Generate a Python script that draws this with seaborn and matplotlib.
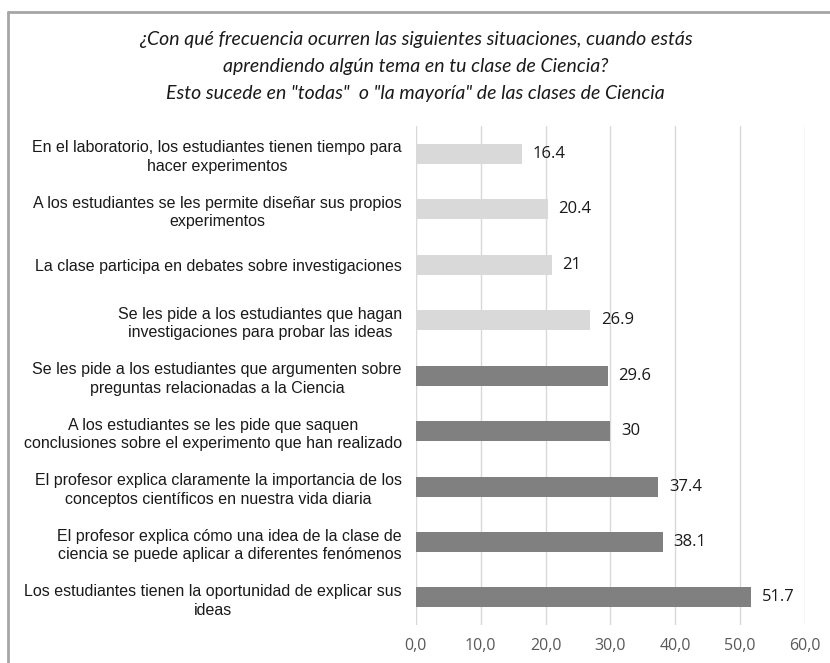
import matplotlib
matplotlib.use("Agg")
import matplotlib.pyplot as plt
import seaborn as sns
import pandas as pd
from matplotlib.lines import Line2D

categories = [
    "En el laboratorio, los estudiantes tienen tiempo para\nhacer experimentos",
    "A los estudiantes se les permite diseñar sus propios\nexperimentos",
    "La clase participa en debates sobre investigaciones",
    "Se les pide a los estudiantes que hagan\ninvestigaciones para probar las ideas",
    "Se les pide a los estudiantes que argumenten sobre\npreguntas relacionadas a la Ciencia",
    "A los estudiantes se les pide que saquen\nconclusiones sobre el experimento que han realizado",
    "El profesor explica claramente la importancia de los\nconceptos científicos en nuestra vida diaria",
    "El profesor explica cómo una idea de la clase de\nciencia se puede aplicar a diferentes fenómenos",
    "Los estudiantes tienen la oportunidad de explicar sus\nideas",
]
values = [16.4, 20.4, 21, 26.9, 29.6, 30, 37.4, 38.1, 51.7]
value_labels = ["16.4", "20.4", "21", "26.9", "29.6", "30", "37.4", "38.1", "51.7"]
groups = ["light", "light", "light", "light", "dark", "dark", "dark", "dark", "dark"]
group_colors = {"light": "#d9d9d9", "dark": "#808080"}
xticks = [0, 10, 20, 30, 40, 50, 60]
xtick_labels = ["0,0", "10,0", "20,0", "30,0", "40,0", "50,0", "60,0"]
title = ("¿Con qué frecuencia ocurren las siguientes situaciones, cuando estás\n"
         "aprendiendo algún tema en tu clase de Ciencia?\n"
         "Esto sucede en \"todas\"  o \"la mayoría\" de las clases de Ciencia")

df = pd.DataFrame({"cat": categories, "val": values, "grp": groups})

sns.set_theme(style="white")
plt.rcParams["font.family"] = ["Liberation Sans", "DejaVu Sans"]

fig = plt.figure(figsize=(8.3, 6.63), dpi=100)
ax = fig.add_axes([0.501, 0.057, 0.469, 0.753])

sns.barplot(data=df, y="cat", x="val", hue="grp", palette=group_colors,
            orient="h", width=0.36, legend=False, ax=ax, zorder=3,
            dodge=False, linewidth=0)

ax.set_xlim(0, 60)
ax.set_ylim(8.5, -0.5)
ax.set_xticks(xticks)
ax.set_xticklabels(xtick_labels, fontsize=11.5, color="#595959", family="Open Sans")
ax.tick_params(axis="x", length=0, pad=9)
ax.tick_params(axis="y", length=0, pad=10)
for lbl in ax.get_yticklabels():
    lbl.set_multialignment("center")
    lbl.set_fontsize(11.5)
    lbl.set_linespacing(1.3)
    lbl.set_color("#1a1a1a")
ax.set_xlabel("")
ax.set_ylabel("")
ax.grid(axis="x", color="#d9d9d9", linewidth=1, zorder=0)
for s in ax.spines.values():
    s.set_visible(False)

for i, (v, t) in enumerate(zip(values, value_labels)):
    ax.annotate(t, xy=(v, i), xytext=(7.5, 0), textcoords="offset points",
                va="center", ha="left", fontsize=12, color="#1a1a1a",
                family="Open Sans")

fig.text(0.501, 0.900, title, ha="center", va="center", fontsize=14,
         style="italic", family="Lato", color="#1a1a1a", linespacing=1.7)

# chart frame (left and top edges visible)
fig.add_artist(Line2D([8/830, 8/830], [0, 1 - 12/663], transform=fig.transFigure,
                      color="#a6a6a6", linewidth=2))
fig.add_artist(Line2D([8/830, 1], [1 - 12/663, 1 - 12/663], transform=fig.transFigure,
                      color="#a6a6a6", linewidth=2))

fig.savefig("out.png", dpi=100, facecolor="white")
